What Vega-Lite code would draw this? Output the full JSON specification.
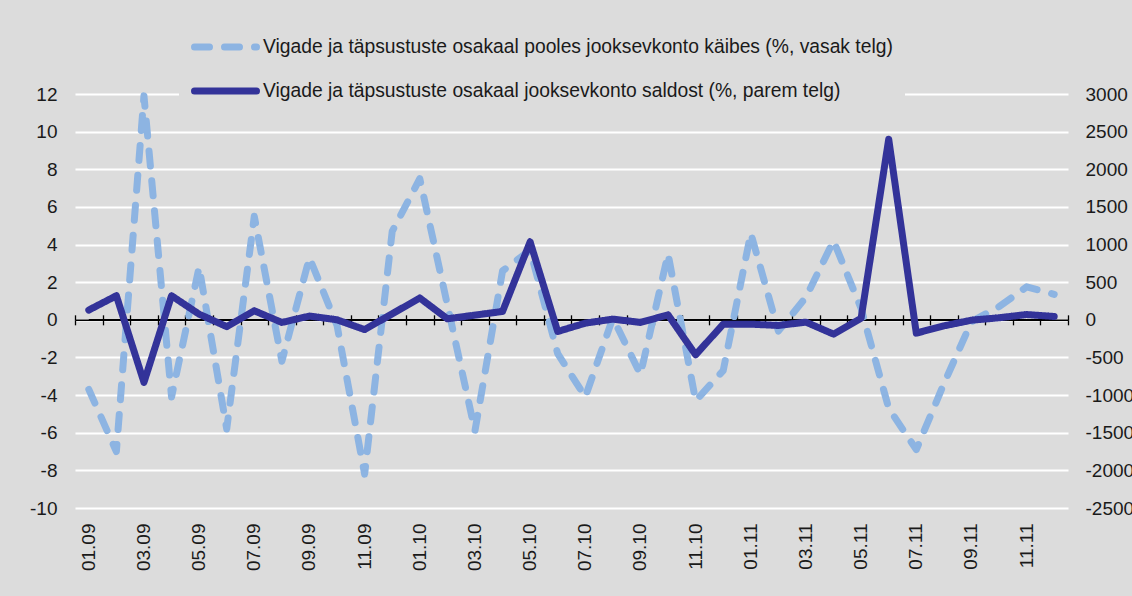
{
  "$schema": "https://vega.github.io/schema/vega-lite/v6.json",
  "width": 993,
  "height": 414,
  "autosize": {"type": "none"},
  "padding": {"left": 75, "top": 94, "right": 64, "bottom": 88},
  "background": "#dcdcdc",
  "config": {
    "view": {"stroke": null},
    "font": "Liberation Sans",
    "axis": {"labelFont": "Liberation Sans", "labelFontSize": 19, "labelColor": "#1a1a1a", "title": null}
  },
  "data": {
    "values": [
      {"m": "01.09", "s": "A", "v": -3.7}, {"m": "02.09", "s": "A", "v": -7.0}, {"m": "03.09", "s": "A", "v": 11.9},
      {"m": "04.09", "s": "A", "v": -4.1}, {"m": "05.09", "s": "A", "v": 2.8}, {"m": "06.09", "s": "A", "v": -5.8},
      {"m": "07.09", "s": "A", "v": 5.5}, {"m": "08.09", "s": "A", "v": -2.2}, {"m": "09.09", "s": "A", "v": 3.3},
      {"m": "10.09", "s": "A", "v": -0.3}, {"m": "11.09", "s": "A", "v": -8.2}, {"m": "12.09", "s": "A", "v": 4.7},
      {"m": "01.10", "s": "A", "v": 7.5}, {"m": "02.10", "s": "A", "v": 0.8}, {"m": "03.10", "s": "A", "v": -5.9},
      {"m": "04.10", "s": "A", "v": 2.6}, {"m": "05.10", "s": "A", "v": 3.7}, {"m": "06.10", "s": "A", "v": -1.8},
      {"m": "07.10", "s": "A", "v": -4.1}, {"m": "08.10", "s": "A", "v": 0.1}, {"m": "09.10", "s": "A", "v": -2.9},
      {"m": "10.10", "s": "A", "v": 3.5}, {"m": "11.10", "s": "A", "v": -4.3}, {"m": "12.10", "s": "A", "v": -2.7},
      {"m": "01.11", "s": "A", "v": 4.6}, {"m": "02.11", "s": "A", "v": -0.6}, {"m": "03.11", "s": "A", "v": 1.2},
      {"m": "04.11", "s": "A", "v": 4.2}, {"m": "05.11", "s": "A", "v": 0.6}, {"m": "06.11", "s": "A", "v": -4.7},
      {"m": "07.11", "s": "A", "v": -6.9}, {"m": "08.11", "s": "A", "v": -3.4}, {"m": "09.11", "s": "A", "v": -0.1},
      {"m": "10.11", "s": "A", "v": 0.7}, {"m": "11.11", "s": "A", "v": 1.75}, {"m": "12.11", "s": "A", "v": 1.35},
      {"m": "01.09", "s": "B", "v": 130}, {"m": "02.09", "s": "B", "v": 320}, {"m": "03.09", "s": "B", "v": -830},
      {"m": "04.09", "s": "B", "v": 320}, {"m": "05.09", "s": "B", "v": 75}, {"m": "06.09", "s": "B", "v": -90},
      {"m": "07.09", "s": "B", "v": 120}, {"m": "08.09", "s": "B", "v": -35}, {"m": "09.09", "s": "B", "v": 50},
      {"m": "10.09", "s": "B", "v": 0}, {"m": "11.09", "s": "B", "v": -130}, {"m": "12.09", "s": "B", "v": 80},
      {"m": "01.10", "s": "B", "v": 290}, {"m": "02.10", "s": "B", "v": 13}, {"m": "03.10", "s": "B", "v": 62},
      {"m": "04.10", "s": "B", "v": 111}, {"m": "05.10", "s": "B", "v": 1035}, {"m": "06.10", "s": "B", "v": -155},
      {"m": "07.10", "s": "B", "v": -44}, {"m": "08.10", "s": "B", "v": 9}, {"m": "09.10", "s": "B", "v": -35},
      {"m": "10.10", "s": "B", "v": 66}, {"m": "11.10", "s": "B", "v": -465}, {"m": "12.10", "s": "B", "v": -58},
      {"m": "01.11", "s": "B", "v": -58}, {"m": "02.11", "s": "B", "v": -75}, {"m": "03.11", "s": "B", "v": -31},
      {"m": "04.11", "s": "B", "v": -190}, {"m": "05.11", "s": "B", "v": 22}, {"m": "06.11", "s": "B", "v": 2400},
      {"m": "07.11", "s": "B", "v": -177}, {"m": "08.11", "s": "B", "v": -80}, {"m": "09.11", "s": "B", "v": -5},
      {"m": "10.11", "s": "B", "v": 27}, {"m": "11.11", "s": "B", "v": 70}, {"m": "12.11", "s": "B", "v": 44}
    ]
  },
  "layer": [
    {
      "transform": [{"filter": "datum.s == 'A'"}],
      "mark": {"type": "line", "color": "black", "strokeWidth": 1.5},
      "encoding": {
        "x": {
          "field": "m", "type": "ordinal", "sort": null,
          "scale": {"type": "band", "paddingInner": 0, "paddingOuter": 0},
          "axis": {"orient": "top", "offset": -225.818, "labels": false, "ticks": true, "tickSize": 5, "tickBand": "extent", "tickColor": "black", "tickWidth": 1.3, "domain": false, "grid": false, "title": null}
        },
        "y": {"datum": 0, "type": "quantitative", "scale": {"domain": [-10, 12], "nice": false, "zero": false}, "axis": null}
      }
    },
    {
      "transform": [{"filter": "datum.s == 'A'"}],
      "mark": {"type": "line", "strokeWidth": 7, "strokeCap": "round", "strokeJoin": "round"},
      "encoding": {
        "x": {
          "field": "m", "type": "ordinal", "sort": null,
          "scale": {"type": "band", "paddingInner": 0, "paddingOuter": 0},
          "axis": {"orient": "bottom", "values": ["01.09", "03.09", "05.09", "07.09", "09.09", "11.09", "01.10", "03.10", "05.10", "07.10", "09.10", "11.10", "01.11", "03.11", "05.11", "07.11", "09.11", "11.11"], "labelAngle": -90, "labelPadding": 15, "ticks": false, "tickSize": 0, "domain": false, "grid": false, "title": null}
        },
        "y": {
          "field": "v", "type": "quantitative",
          "scale": {"domain": [-10, 12], "nice": false, "zero": false},
          "axis": {"orient": "left", "values": [-10, -8, -6, -4, -2, 0, 2, 4, 6, 8, 10, 12], "labelExpr": "'' + datum.value", "grid": true, "gridColor": "#ffffff", "gridWidth": 2, "ticks": false, "tickSize": 0, "domain": false, "labelPadding": 18, "title": null}
        },
        "color": {
          "field": "s", "type": "nominal",
          "scale": {"domain": ["A", "B"], "range": ["#8db4e2", "#333399"]},
          "legend": {"title": null, "orient": "none", "legendX": 104, "legendY": -69, "direction": "vertical", "fillColor": "#dcdcdc", "padding": 12, "symbolType": "stroke", "symbolSize": 3844, "symbolStrokeWidth": 7, "clipHeight": 20, "labelFont": "Liberation Sans", "labelFontSize": 19.3, "labelColor": "#1a1a1a", "labelLimit": 1000, "labelOffset": 3, "rowPadding": 23, "labelExpr": "datum.label == 'A' ? 'Vigade ja täpsustuste osakaal pooles jooksevkonto käibes (%, vasak telg)' : 'Vigade ja täpsustuste osakaal jooksevkonto saldost (%, parem telg)'", "encode": {"symbols": {"update": {"strokeCap": {"value": "round"}}}}}
        },
        "strokeDash": {
          "field": "s", "type": "nominal",
          "scale": {"domain": ["A", "B"], "range": [[15, 15], [1, 0]]},
          "legend": {"title": null, "orient": "none", "legendX": 104, "legendY": -69, "direction": "vertical", "fillColor": "#dcdcdc", "padding": 12, "symbolType": "stroke", "symbolSize": 3844, "symbolStrokeWidth": 7, "clipHeight": 20, "labelFont": "Liberation Sans", "labelFontSize": 19.3, "labelColor": "#1a1a1a", "labelLimit": 1000, "labelOffset": 3, "rowPadding": 23, "labelExpr": "datum.label == 'A' ? 'Vigade ja täpsustuste osakaal pooles jooksevkonto käibes (%, vasak telg)' : 'Vigade ja täpsustuste osakaal jooksevkonto saldost (%, parem telg)'", "encode": {"symbols": {"update": {"strokeCap": {"value": "round"}}}}}
        }
      }
    },
    {
      "transform": [{"filter": "datum.s == 'B'"}],
      "mark": {"type": "line", "strokeWidth": 7, "strokeCap": "round", "strokeJoin": "round"},
      "encoding": {
        "x": {
          "field": "m", "type": "ordinal", "sort": null,
          "scale": {"type": "band", "paddingInner": 0, "paddingOuter": 0},
          "axis": {"orient": "bottom", "offset": -188.182, "labels": false, "ticks": true, "tickSize": 5, "tickBand": "extent", "tickColor": "black", "tickWidth": 1.3, "domain": true, "domainColor": "black", "domainWidth": 1.5, "grid": false, "title": null}
        },
        "y": {
          "field": "v", "type": "quantitative",
          "scale": {"domain": [-2500, 3000], "nice": false, "zero": false},
          "axis": {"orient": "right", "values": [-2500, -2000, -1500, -1000, -500, 0, 500, 1000, 1500, 2000, 2500, 3000], "labelExpr": "'' + datum.value", "grid": false, "ticks": false, "tickSize": 0, "domain": false, "labelPadding": 17, "title": null}
        },
        "color": {"field": "s", "type": "nominal", "scale": {"domain": ["A", "B"], "range": ["#8db4e2", "#333399"]}},
        "strokeDash": {"field": "s", "type": "nominal", "scale": {"domain": ["A", "B"], "range": [[15, 15], [1, 0]]}}
      }
    }
  ],
  "resolve": {"scale": {"y": "independent"}, "axis": {"x": "independent"}}
}
